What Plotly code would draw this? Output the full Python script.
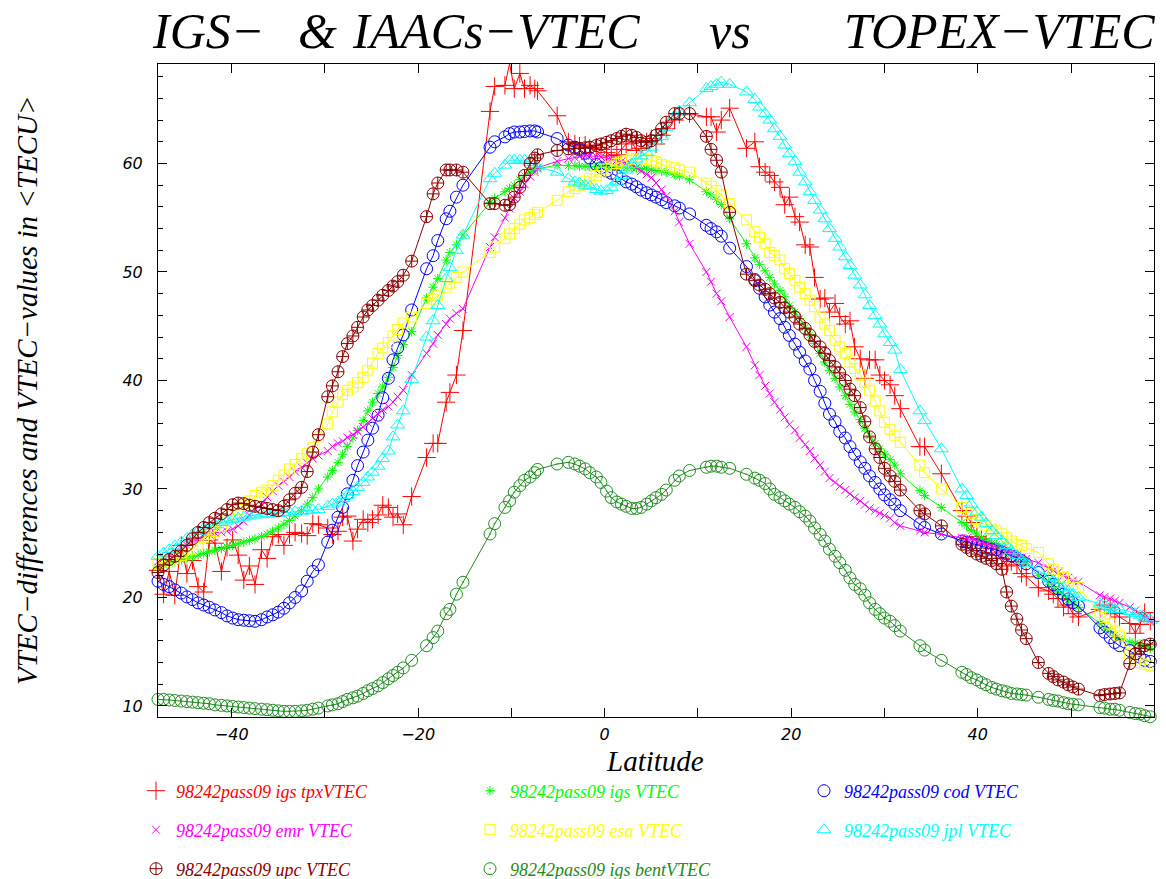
import plotly.graph_objects as go

# ---------------- data ----------------
lat = [-47.9, -47.3, -46.7, -46.1, -45.4, -44.8, -44.2, -43.6, -43.0, -42.4,
       -41.8, -41.1, -40.5, -39.9, -39.3, -38.7, -38.1, -37.5, -36.8, -36.2,
       -35.6, -35.0, -34.4, -33.8, -33.2, -32.5, -31.9, -31.3, -30.7,
       -29.7, -29.2, -28.6, -28.1, -27.6, -27.0, -26.5, -25.9, -25.4, -24.9,
       -24.3, -23.8, -23.2, -22.7, -22.2, -21.6,
       -20.7, -19.1, -18.4, -17.9, -17.0, -16.6, -15.9, -15.2, -12.3, -11.8,
       -10.7, -10.2, -9.7, -9.1, -8.6, -8.0, -7.5, -7.2,
       -5.1, -3.9, -3.2, -2.7, -2.1, -1.6, -0.9, -0.4, 0.2, 0.7, 1.3, 1.8, 2.3,
       2.9, 3.4, 3.9, 4.5, 5.0, 5.5, 6.1, 6.6, 7.5, 8.0, 9.1, 10.9, 11.4, 12.0,
       12.5, 13.4, 15.2, 16.1, 16.6, 17.2, 17.7, 18.2, 18.8, 19.3, 19.8, 20.4,
       20.9, 21.5, 22.0, 22.5, 23.1, 23.6, 24.1, 24.7, 25.2, 25.8, 26.3, 26.8,
       27.4, 27.9, 28.4, 29.0, 29.5, 30.0, 30.6, 31.1, 31.7, 33.8, 34.3, 36.1,
       38.3, 38.8, 39.3, 39.9, 40.4, 40.9, 41.5, 42.0, 42.6, 43.1, 43.6, 44.2,
       44.7, 45.2, 46.5, 47.6, 48.1, 48.6, 49.2, 49.7, 50.2, 50.8, 53.1, 53.6,
       54.2, 54.7, 55.2, 56.3, 56.9, 57.4, 57.9, 58.5, 59.0]

tpx_vtec = [22.5, 20.3, 22.4, 20.2, 24.8, 22.2, 23.4, 21.0, 20.5, 25.3,
            25.0, 22.4, 24.6, 25.3, 23.9, 21.6, 22.9, 21.2, 24.4, 23.6,
            25.6, 25.8, 24.8, 25.8, 26.0, 25.9, 25.7, 26.8, 26.7,
            26.4, 25.8, 26.1, 27.4, 27.5, 25.2, 26.3, 27.2, 26.9, 27.2,
            27.6, 28.5, 28.3, 27.4, 27.7, 26.7,
            29.3, 32.9, 34.2, 34.2, 38.0, 38.9, 40.5, 44.6, 64.8, 67.1,
            67.2, 69.2, 66.9, 68.3, 66.9, 67.2, 66.9, 66.7,
            64.4, 62.0, 61.8, 61.6, 61.7, 61.4, 61.5, 61.3, 61.0, 60.7, 60.8, 61.3, 61.8,
            62.0, 61.2, 61.4, 62.0, 62.3, 61.8, 62.6, 63.2, 64.0, 64.5, 64.6, 64.3, 64.3, 62.9,
            64.0, 65.1, 61.4, 62.0, 59.7, 59.2, 58.9, 58.3, 57.8, 56.2, 56.9, 55.1,
            54.6, 52.5, 52.3, 49.5, 47.5, 47.6, 46.3, 47.1, 45.9, 45.2, 45.5, 43.1,
            42.0, 40.2, 41.9, 41.9, 40.5, 40.0, 39.6, 38.6, 37.4, 33.9, 33.9, 31.4,
            28.0, 27.5, 26.9, 25.6, 25.4, 24.9, 24.5, 24.1, 23.6, 22.9, 23.3, 23.0,
            22.2, 21.9, 20.9, 20.6, 20.3, 19.9, 19.1, 19.3, 18.5, 18.2, 18.9, 19.3,
            19.1, 18.5, 18.2, 17.6, 16.7, 17.5, 18.6, 17.8, 17.3]

igs_vtec = [22.8, 23.0, 23.15, 23.3, 23.45, 23.6, 23.75, 23.9, 24.05, 24.2,
            24.35, 24.5, 24.65, 24.8, 24.95, 25.1, 25.25, 25.4, 25.6, 25.85,
            26.1, 26.4, 26.75, 27.1, 27.5, 28.0, 28.6, 29.2, 30.0,
            31.1, 31.7, 32.45, 33.2, 33.9, 34.7, 35.4, 36.3, 37.2, 38.0,
            38.8, 39.4, 40.3, 41.2, 42.3, 43.3,
            44.5, 47.6, 48.6, 49.4, 51.1, 51.8, 52.5, 53.4, 56.4, 56.8,
            57.4, 57.7, 58.0, 58.5, 58.9, 59.2, 59.4, 59.5,
            59.85, 59.8, 59.8, 59.75, 59.75, 59.7, 59.7, 59.7, 59.7, 59.65, 59.65, 59.65, 59.6,
            59.6, 59.6, 59.5, 59.5, 59.4, 59.35, 59.3, 59.2, 59.0, 58.85, 58.5, 57.4, 57.1, 56.7,
            56.2, 54.9, 52.6, 51.3, 50.7, 50.1, 49.5, 48.9, 48.3, 47.7, 46.9, 46.3,
            45.7, 44.9, 44.2, 43.4, 42.5, 41.7, 40.9, 40.2, 39.4, 38.6, 37.8, 37.1,
            36.4, 35.6, 34.9, 34.2, 33.7, 33.2, 32.7, 32.2, 31.4, 29.85, 29.4, 28.3,
            26.9, 26.6, 26.15, 25.85, 25.5, 25.2, 25.0, 24.85, 24.5, 24.2, 23.95, 23.7,
            23.5, 23.3, 22.0, 21.45, 21.0, 20.5, 20.15, 19.8, 19.5, 19.1, 17.6, 17.2,
            16.85, 16.5, 16.2, 15.9, 15.8, 15.7, 15.5, 15.3, 15.15]

cod_vtec = [21.5, 21.2, 21.0, 20.7, 20.4, 20.05, 19.8, 19.5, 19.3, 19.1,
            18.85, 18.6, 18.3, 18.1, 17.95, 17.9, 17.85, 17.8, 17.95, 18.2,
            18.4, 18.65, 19.0, 19.5, 20.0, 20.6, 21.5, 22.4, 23.0,
            25.1, 26.2, 27.4, 28.3, 29.55, 30.8, 32.15, 33.4, 34.5, 35.6,
            36.8, 38.4, 40.2, 41.9, 43.0, 44.2,
            46.5, 50.3, 51.5, 52.9, 54.9, 55.6, 56.9, 58.0, 61.5, 62.0,
            62.45, 62.75, 62.9, 62.9, 62.95, 63.0, 63.0, 62.9,
            62.3, 61.7, 61.5, 61.25, 60.95, 60.5, 59.9, 59.6, 59.3, 59.1, 58.85, 58.6, 58.3,
            58.1, 57.85, 57.55, 57.3, 57.1, 56.9, 56.65, 56.4, 56.1, 55.9, 55.35, 54.3, 54.0, 53.7,
            53.3, 52.2, 50.5, 49.3, 48.5, 47.7, 46.95, 46.3, 45.7, 44.9, 44.15, 43.35,
            42.6, 41.8, 41.05, 40.0, 39.0, 37.9, 36.9, 36.2, 35.3, 34.7, 33.9, 33.2,
            32.5, 31.9, 31.2, 30.6, 30.0, 29.45, 29.0, 28.6, 28.0, 26.8, 26.45, 25.85,
            25.2, 25.1, 25.0, 24.85, 24.7, 24.55, 24.45, 24.4, 24.2, 24.0, 23.85, 23.65,
            23.4, 23.1, 22.3, 21.5, 21.2, 20.8, 20.3, 19.85, 19.5, 19.2, 17.2, 16.8,
            16.3, 15.85, 15.55, 15.1, 14.8, 14.5, 14.2, 14.1, 13.9]

emr_vtec = [23.3, 23.6, 23.9, 24.2, 24.5, 24.8, 25.1, 25.35, 25.6, 25.8,
            25.95, 26.0, 26.1, 26.3, 26.6, 27.0, 27.6, 28.1, 28.6, 29.25,
            29.8, 30.3, 30.7, 31.1, 31.6, 32.0, 32.4, 32.8, 33.1,
            33.5, 33.9, 34.2, 34.4, 34.75, 35.0, 35.3, 35.7, 36.1, 36.5,
            36.9, 37.3, 37.6, 38.0, 38.5, 39.1,
            40.5, 42.5, 43.4, 44.2, 45.2, 45.7, 46.2, 46.6, 52.3, 53.2,
            55.0, 55.85, 56.8, 57.4, 58.1, 58.8, 59.2, 59.6,
            60.2, 60.45, 60.55, 60.65, 60.7, 60.7, 60.65, 60.6, 60.5, 60.4, 60.3, 60.2, 60.05,
            59.9, 59.6, 59.3, 59.0, 58.7, 58.2, 57.6, 57.0, 55.6, 54.6, 52.6, 50.0, 49.1, 48.0,
            47.3, 45.85, 43.1, 41.4, 40.5, 39.5, 38.8, 38.0, 37.3, 36.6, 35.95, 35.4,
            34.7, 34.1, 33.5, 32.8, 32.2, 31.6, 31.0, 30.6, 30.25, 29.9, 29.55, 29.2,
            28.9, 28.55, 28.2, 28.0, 27.75, 27.55, 27.3, 26.9, 26.6, 26.15, 26.0, 25.8,
            25.5, 25.45, 25.35, 25.2, 25.05, 24.9, 24.75, 24.65, 24.5, 24.3, 24.1, 23.9,
            23.7, 23.55, 23.2, 22.7, 22.5, 22.3, 22.0, 21.8, 21.55, 21.45, 20.2, 20.05,
            19.9, 19.7, 19.5, 19.1, 18.8, 18.5, 18.2, 17.9, 17.75]

esa_vtec = [23.1, 23.25, 23.4, 23.6, 23.85, 24.1, 24.45, 24.9, 25.5, 25.8,
            26.1, 26.55, 27.1, 27.6, 28.1, 28.55, 28.9, 29.4, 29.7, 29.9,
            30.3, 30.8, 31.3, 31.85, 32.25, 32.8, 33.3, 33.85, 34.8,
            36.0, 37.1, 38.0, 38.7, 39.1, 39.4, 39.8, 40.3, 40.9, 41.6,
            42.5, 43.0, 43.5, 44.1, 44.7, 45.3,
            45.85, 47.1, 47.5, 47.8, 48.6, 48.9, 49.5, 50.0, 51.8, 52.3,
            53.1, 53.5, 54.0, 54.4, 54.8, 55.0, 55.3, 55.5,
            56.6, 57.4, 57.7, 58.0, 58.3, 58.6, 58.9, 59.2, 59.5, 59.75, 60.0, 60.15, 60.3,
            60.4, 60.45, 60.45, 60.4, 60.3, 60.15, 59.9, 59.75, 59.6, 59.4, 59.2, 58.2, 57.9, 57.5,
            57.1, 56.3, 54.8, 53.7, 53.2, 52.6, 51.8, 51.5, 51.1, 50.3, 49.85, 49.2,
            48.6, 48.0, 47.4, 46.8, 45.85, 45.2, 44.6, 43.7, 43.1, 42.5, 41.7, 41.1,
            40.5, 39.8, 39.1, 38.1, 37.2, 36.15, 35.5, 34.9, 34.3, 32.2, 31.5, 30.0,
            28.3, 28.0, 27.7, 27.2, 26.9, 26.6, 26.3, 26.15, 25.85, 25.5, 25.2, 24.9,
            24.8, 24.5, 24.15, 23.1, 22.6, 22.3, 21.85, 21.55, 21.2, 20.9, 18.6, 18.15,
            17.55, 16.9, 16.45, 14.8, 14.2, 14.0, 13.85, 13.7, 13.4]

jpl_vtec = [23.8, 24.1, 24.4, 24.75, 25.1, 25.45, 25.8, 26.1, 26.35, 26.55,
            26.7, 26.9, 27.05, 27.2, 27.3, 27.4, 27.5, 27.6, 27.7, 27.7,
            27.7, 27.75, 27.8, 27.85, 27.9, 27.95, 28.0, 28.05, 28.1,
            28.4, 28.6, 28.8, 29.1, 29.4, 29.75, 30.15, 30.6, 31.1, 31.55,
            32.1, 32.8, 33.5, 34.8, 35.9, 37.2,
            40.1, 44.0, 45.5, 46.9, 49.4, 50.4, 52.0, 53.4, 58.6, 59.1,
            59.85, 60.3, 60.3, 60.3, 60.3, 60.1, 59.9, 59.7,
            59.2, 58.6, 58.3, 58.2, 58.0, 57.9, 57.6, 57.45, 57.5, 57.8, 58.3, 58.9, 59.4,
            59.9, 60.4, 60.7, 61.0, 61.5, 62.1, 62.5, 63.3, 64.4, 64.8, 65.6, 66.9, 67.1, 67.3,
            67.5, 67.3, 66.6, 65.9, 65.2, 64.6, 64.0, 63.2, 62.5, 61.7, 60.9, 60.2,
            59.2, 58.3, 57.4, 56.6, 55.7, 54.9, 54.0, 53.1, 52.3, 51.4, 50.6, 49.7,
            48.8, 47.9, 46.9, 46.0, 45.2, 44.3, 43.5, 42.8, 41.0, 37.2, 36.3, 33.7,
            30.0, 29.4, 28.6, 27.85, 27.4, 26.8, 26.15, 25.7, 25.2, 24.8, 24.3, 23.85,
            23.4, 23.1, 22.5, 21.85, 21.55, 21.2, 20.9, 20.6, 20.3, 20.0, 19.4, 19.2,
            19.1, 18.9, 18.9, 18.7, 18.5, 18.3, 18.1, 17.9, 17.7]

upc_vtec = [22.3, 23.0, 23.5, 23.8, 24.3, 24.8, 25.4, 26.0, 26.45, 26.9,
            27.3, 27.7, 28.1, 28.55, 28.7, 28.65, 28.5, 28.4, 28.3, 28.2,
            28.1, 28.0, 28.4, 29.0, 29.6, 30.15, 31.6, 33.4, 35.0,
            38.5, 39.5, 40.8, 42.2, 43.4, 44.1, 44.9, 45.85, 46.5, 46.9,
            47.4, 47.85, 48.3, 48.7, 49.1, 49.7,
            51.0, 55.1, 57.2, 58.2, 59.4, 59.4, 59.4, 59.2, 56.3, 56.3,
            56.15, 56.2, 56.9, 57.8, 58.9, 60.0, 60.5, 60.8,
            61.2, 61.35, 61.4, 61.4, 61.45, 61.5, 61.65, 61.8, 61.95, 62.1, 62.3, 62.5, 62.7,
            62.6, 62.4, 62.1, 61.95, 62.1, 62.6, 63.2, 63.8, 64.6, 64.6, 64.6, 62.5, 61.3, 60.3,
            59.2, 55.5, 49.8, 49.2, 48.8, 48.4, 48.0, 47.6, 47.2, 46.7, 46.3, 45.85,
            45.2, 44.8, 44.2, 43.6, 43.1, 42.5, 41.85, 41.25, 40.7, 40.0, 39.2, 38.6,
            37.5, 36.2, 34.8, 33.7, 32.9, 31.9, 31.2, 30.7, 29.9, 28.0, 27.7, 26.6,
            24.9, 24.6, 24.3, 24.0, 23.8, 23.6, 23.4, 23.1, 22.6, 20.5, 19.2, 18.0,
            17.0, 16.2, 14.0, 13.0, 12.7, 12.4, 12.2, 11.95, 11.75, 11.55, 10.95, 11.05,
            11.1, 11.15, 11.2, 13.9, 14.8, 15.3, 15.55, 15.7, 16.0]

bent_vtec = [10.6, 10.6, 10.55, 10.5, 10.45, 10.4, 10.35, 10.3, 10.25, 10.2,
             10.1, 10.05, 10.0, 9.95, 9.9, 9.85, 9.8, 9.75, 9.7, 9.65,
             9.6, 9.55, 9.5, 9.5, 9.5, 9.55, 9.6, 9.7, 9.8,
             10.0, 10.1, 10.2, 10.4, 10.6, 10.75, 10.9, 11.15, 11.4, 11.6,
             11.85, 12.15, 12.5, 12.8, 13.1, 13.5,
             14.2, 15.55, 16.3, 16.9, 18.5, 18.9, 20.3, 21.4, 25.85, 26.8,
             28.3, 28.9, 29.7, 30.3, 30.8, 31.1, 31.5, 31.8,
             32.3, 32.45, 32.3, 32.1, 31.85, 31.5, 31.1, 30.6, 29.8, 29.2, 28.8, 28.6, 28.4,
             28.2, 28.2, 28.3, 28.6, 28.9, 29.2, 29.5, 29.9, 30.8, 31.2, 31.7, 32.0, 32.1, 32.1,
             32.0, 31.9, 31.35, 31.0, 30.8, 30.5, 30.0, 29.5, 29.2, 28.9, 28.6, 28.3,
             27.9, 27.5, 27.05, 26.4, 25.8, 25.2, 24.45, 23.8, 23.2, 22.5, 21.8, 21.2,
             20.8, 20.2, 19.5, 18.9, 18.5, 18.1, 17.8, 17.4, 16.9, 15.55, 15.15, 14.2,
             13.1, 12.9, 12.6, 12.4, 12.15, 11.95, 11.7, 11.55, 11.4, 11.3, 11.15, 11.1,
             11.05, 11.0, 10.8, 10.6, 10.5, 10.45, 10.3, 10.2, 10.15, 10.1, 9.85, 9.8,
             9.7, 9.7, 9.6, 9.4, 9.3, 9.25, 9.1, 9.0, 8.95]

series_names = ["98242pass09 igs tpxVTEC", "98242pass09 igs VTEC", "98242pass09 cod VTEC",
                "98242pass09 emr VTEC", "98242pass09 esa VTEC", "98242pass09 jpl VTEC",
                "98242pass09 upc VTEC", "98242pass09 igs bentVTEC"]
series_values = [tpx_vtec, igs_vtec, cod_vtec, emr_vtec, esa_vtec, jpl_vtec, upc_vtec, bent_vtec]

x_tick_vals = [-40, -30, -20, -10, 0, 10, 20, 30, 40, 50]
x_tick_text = ["\u221240", "", "\u221220", "", "0", "", "20", "", "40", ""]
y_tick_vals = [10, 20, 30, 40, 50, 60]
y_tick_text = ["10", "20", "30", "40", "50", "60"]

title_parts = ["IGS\u2212", "&", "IAACs\u2212VTEC", "vs", "TOPEX\u2212VTEC"]
y_title = "VTEC\u2212differences and VTEC\u2212values in &lt;TECU&gt;"
x_title = "Latitude"

# ---------------- styles ----------------
colors = ["#ff0000", "#00ff00", "#0000ff", "#ff00ff", "#ffff00", "#00ffff", "#8b0000", "#228b22"]
symbols = ["cross-thin-open", "asterisk-open", "circle-open", "x-thin-open",
           "square-open", "triangle-up-open", "circle-cross-open", "circle-open-dot"]
sizes = [13, 8, 12, 8, 10, 12, 12, 12]
legend_ids = ["legend", "legend", "legend", "legend2", "legend2", "legend2", "legend3", "legend3"]

for v in series_values:
    assert len(v) == len(lat), (len(v), len(lat))

W, H = 1166, 879
L, R, T, B = 158, 12, 64, 162
PW, PH = W - L - R, H - T - B


def px(xp):
    return (xp - L) / PW


def py(yp):
    return (H - B - yp) / PH


fig = go.Figure()
for name, vals, c, s, sz in zip(series_names, series_values, colors, symbols, sizes):
    fig.add_trace(go.Scatter(
        x=lat, y=vals, mode="lines+markers", showlegend=False, cliponaxis=False,
        line=dict(color=c, width=1),
        marker=dict(symbol=s, size=sz, color=c, line=dict(color=c, width=1)),
        name=name))

# legend-only entries (marker symbol, coloured text)
for name, c, s, sz, lg in zip(series_names, colors, symbols, sizes, legend_ids):
    fig.add_trace(go.Scatter(
        x=[None], y=[None], mode="markers", legend=lg, showlegend=True,
        marker=dict(symbol=s, size=sz, color=c, line=dict(color=c, width=1)),
        name='<span style="color:%s">%s</span>' % (c, name)))

axis_font = dict(family="DejaVu Sans", size=16, color="black", style="italic")
serif_it = "Liberation Serif"

fig.update_xaxes(range=[-47.9, 58.9], showgrid=False, zeroline=False,
                 showline=True, linecolor="black", linewidth=1, mirror="allticks",
                 ticks="inside", ticklen=9, tickwidth=1, tickcolor="black",
                 tickvals=x_tick_vals, ticktext=x_tick_text, tickfont=axis_font,
                 ticklabelstandoff=3)
fig.update_yaxes(range=[8.98, 69.17], showgrid=False, zeroline=False,
                 showline=True, linecolor="black", linewidth=1, mirror="allticks",
                 ticks="inside", ticklen=9, tickwidth=1, tickcolor="black",
                 tickvals=y_tick_vals, ticktext=y_tick_text, tickfont=axis_font,
                 ticklabelstandoff=11,
                 minor=dict(dtick=2, tick0=0, ticks="inside", ticklen=5,
                            tickcolor="black", tickwidth=1, showgrid=False))

legend_common = dict(orientation="h", xanchor="left", yanchor="middle",
                     entrywidth=289, entrywidthmode="pixels", itemwidth=30,
                     bgcolor="rgba(0,0,0,0)", borderwidth=0,
                     font=dict(family=serif_it, size=18, style="italic", color="black"))

annotations = []
title_pos = [(150, "left"), (296, "left"), (350, "left"), (730, "center"), (842, "left")]
for txt, (xp, anc) in zip(title_parts, title_pos):
    annotations.append(dict(text=txt, x=px(xp), y=py(31), xref="paper", yref="paper",
                            xanchor=anc, yanchor="middle", showarrow=False,
                            font=dict(family=serif_it, size=50, style="italic", color="black")))
annotations.append(dict(text=y_title, x=px(27), y=py(390), xref="paper", yref="paper",
                        xanchor="center", yanchor="middle", textangle=-90, showarrow=False,
                        font=dict(family=serif_it, size=29, style="italic", color="black")))
annotations.append(dict(text=x_title, x=px(655), y=py(761), xref="paper", yref="paper",
                        xanchor="center", yanchor="middle", showarrow=False,
                        font=dict(family=serif_it, size=29, style="italic", color="black")))

fig.update_layout(
    width=W, height=H, autosize=False,
    margin=dict(l=L, r=R, t=T, b=B, pad=0, autoexpand=False),
    paper_bgcolor="white", plot_bgcolor="white",
    legend=dict(legend_common, x=px(136), y=py(791)),
    legend2=dict(legend_common, x=px(136), y=py(830)),
    legend3=dict(legend_common, x=px(136), y=py(869)),
    annotations=annotations,
)

fig.write_html("out.html", config={"displayModeBar": False},
               post_script="document.body.style.margin='0px';document.body.style.overflow='hidden';")
